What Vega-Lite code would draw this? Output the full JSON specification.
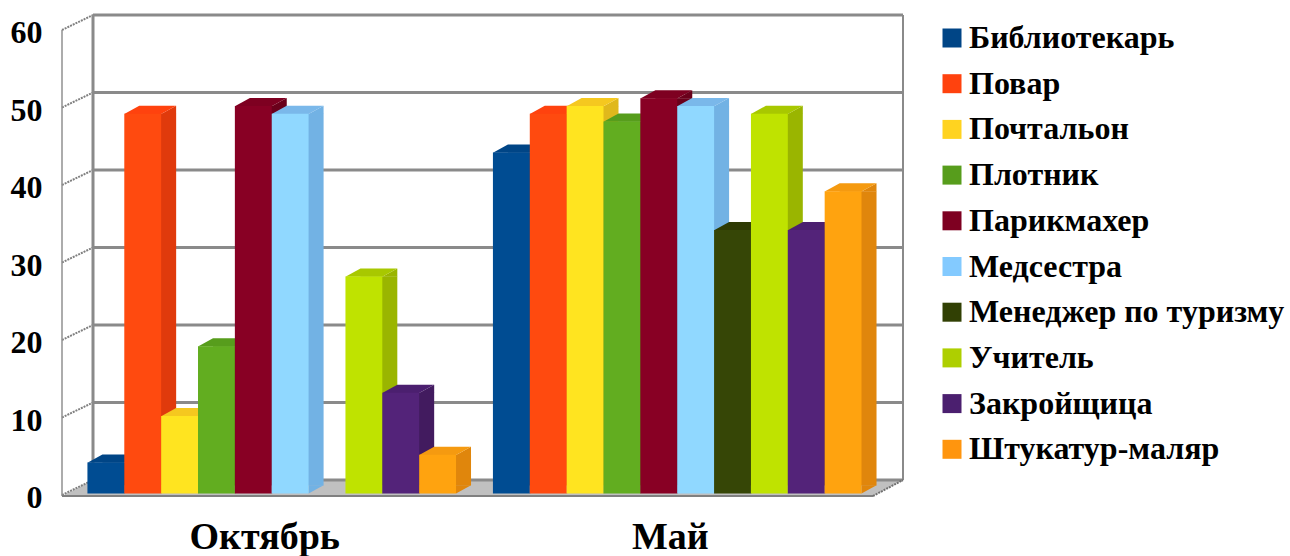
{
"$schema":"https://vega.github.io/schema/vega-lite/v6.json",
"width":811,"height":465,"autosize":"none",
"padding":{"left":62,"top":30,"right":417,"bottom":61},
"background":"white",
"config":{"view":{"stroke":null},
 "axisY":{"grid":false,"domain":false,"ticks":false,"tickCount":6,"labelFont":"Liberation Serif","labelFontWeight":"bold","labelFontSize":32,"labelColor":"#000000","labelPadding":20,"labelOffset":2.5},
 "axisX":{"labelAngle":0,"grid":false,"domain":false,"ticks":false,"labelFont":"Liberation Serif","labelFontWeight":"bold","labelFontSize":38,"labelColor":"#000000","labelPadding":23}},
"datasets":{
"rows":[
{"group":"Октябрь","job":"Библиотекарь","value":4},
{"group":"Октябрь","job":"Повар","value":49},
{"group":"Октябрь","job":"Почтальон","value":10},
{"group":"Октябрь","job":"Плотник","value":19},
{"group":"Октябрь","job":"Парикмахер","value":50},
{"group":"Октябрь","job":"Медсестра","value":49},
{"group":"Октябрь","job":"Учитель","value":28},
{"group":"Октябрь","job":"Закройщица","value":13},
{"group":"Октябрь","job":"Штукатур-маляр","value":5},
{"group":"Май","job":"Библиотекарь","value":44},
{"group":"Май","job":"Повар","value":49},
{"group":"Май","job":"Почтальон","value":50},
{"group":"Май","job":"Плотник","value":48},
{"group":"Май","job":"Парикмахер","value":51},
{"group":"Май","job":"Медсестра","value":50},
{"group":"Май","job":"Менеджер по туризму","value":34},
{"group":"Май","job":"Учитель","value":49},
{"group":"Май","job":"Закройщица","value":34},
{"group":"Май","job":"Штукатур-маляр","value":39}
],
"levels":[{"v":0},{"v":10},{"v":20},{"v":30},{"v":40},{"v":50},{"v":60}]
},
"data":{"name":"rows"},
"resolve":{"scale":{"color":"independent","xOffset":"independent"}},
"layer":[
{"data":{"values":[{"v":0}]},"mark":{"type":"point","filled":true,"opacity":1,"size":4,"fill":"#c0c0c0","shape":"M-405.5,1 L-374.5,-15 L435.5,-15 L405.5,1 Z"},
 "encoding":{"y":{"field":"v","type":"quantitative","title":null,"scale":{"domain":[0,60]}}}},
{"data":{"name":"levels"},"mark":{"type":"point","filled":false,"opacity":1,"size":4,"stroke":"#8a8a8a","strokeWidth":3,"shape":"M-374.5,-15 L435.5,-15"},
 "encoding":{"y":{"field":"v","type":"quantitative","title":null,"scale":{"domain":[0,60]}}}},
{"data":{"name":"levels"},"mark":{"type":"point","filled":false,"opacity":1,"size":4,"stroke":"#808080","strokeWidth":2,"strokeDash":[2,1],"shape":"M-405.5,0 L-374.5,-15"},
 "encoding":{"y":{"field":"v","type":"quantitative","title":null,"scale":{"domain":[0,60]}}}},
{"data":{"values":[{"v":0}]},"mark":{"type":"point","filled":false,"opacity":1,"size":4,"stroke":"#8a8a8a","strokeWidth":3,"shape":"M-374.5,-15 L-374.5,-480"},
 "encoding":{"y":{"field":"v","type":"quantitative","title":null,"scale":{"domain":[0,60]}}}},
{"data":{"values":[{"v":0}]},"mark":{"type":"point","filled":false,"opacity":1,"size":4,"stroke":"#8a8a8a","strokeWidth":2,"shape":"M435.5,-15 L435.5,-480"},
 "encoding":{"y":{"field":"v","type":"quantitative","title":null,"scale":{"domain":[0,60]}}}},
{"data":{"values":[{"v":0}]},"mark":{"type":"point","filled":false,"opacity":1,"size":4,"stroke":"#909090","strokeWidth":1.5,"shape":"M-405.5,1 L-405.5,-465"},
 "encoding":{"y":{"field":"v","type":"quantitative","title":null,"scale":{"domain":[0,60]}}}},
{"data":{"values":[{"v":0}]},"mark":{"type":"point","filled":false,"opacity":1,"size":4,"stroke":"#808080","strokeWidth":2,"shape":"M-405.5,1 L405.5,1"},
 "encoding":{"y":{"field":"v","type":"quantitative","title":null,"scale":{"domain":[0,60]}}}},
{"data":{"values":[{"v":0}]},"mark":{"type":"point","filled":false,"opacity":1,"size":4,"stroke":"#707070","strokeWidth":2,"strokeDash":[2,1],"shape":"M405.5,1 L435.5,-15"},
 "encoding":{"y":{"field":"v","type":"quantitative","title":null,"scale":{"domain":[0,60]}}}},

{"mark":{"type":"bar","yOffset":-1.5,"y2Offset":-9.5},
 "encoding":{
  "x":{"field":"group","type":"nominal","title":null,"sort":null,"scale":{"type":"band","domain":["Октябрь","Май"],"paddingInner":0,"paddingOuter":0}},
  "xOffset":{"field":"job","type":"nominal","sort":null,"scale":{"type":"band","domain":["Библиотекарь","Повар","Почтальон","Плотник","Парикмахер","Медсестра","Менеджер по туризму","Учитель","Закройщица","Штукатур-маляр"],"range":[40.43,409.03],"paddingInner":0,"paddingOuter":0}},
  "y":{"field":"value","type":"quantitative","title":null,"stack":null,"scale":{"domain":[0,60]}},
  "y2":{"datum":0},
  "color":{"field":"job","type":"nominal","legend":null,"sort":null,"scale":{"domain":["Библиотекарь","Повар","Почтальон","Плотник","Парикмахер","Медсестра","Менеджер по туризму","Учитель","Закройщица","Штукатур-маляр"],"range":["#003c75","#e03a0c","#e0b81c","#4d8c18","#6a001b","#72b2e4","#283403","#9ab500","#421b5f","#e0860c"]}}
 }},
{"mark":{"type":"point","filled":true,"opacity":1,"size":4,"strokeWidth":0,"yOffset":-1.5,"shape":"M18.43,0.3 L33.43,-8 L33.43,0.3 Z"},
 "encoding":{
  "x":{"field":"group","type":"nominal","title":null,"sort":null,"scale":{"type":"band","domain":["Октябрь","Май"],"paddingInner":0,"paddingOuter":0}},
  "xOffset":{"field":"job","type":"nominal","sort":null,"scale":{"type":"band","domain":["Библиотекарь","Повар","Почтальон","Плотник","Парикмахер","Медсестра","Менеджер по туризму","Учитель","Закройщица","Штукатур-маляр"],"range":[25.43,394.03],"paddingInner":0,"paddingOuter":0}},
  "y":{"field":"value","type":"quantitative","title":null,"scale":{"domain":[0,60]}},
  "color":{"field":"job","type":"nominal","legend":null,"sort":null,"scale":{"domain":["Библиотекарь","Повар","Почтальон","Плотник","Парикмахер","Медсестра","Менеджер по туризму","Учитель","Закройщица","Штукатур-маляр"],"range":["#003c75","#e03a0c","#e0b81c","#4d8c18","#6a001b","#72b2e4","#283403","#9ab500","#421b5f","#e0860c"]}}
 }},
{"mark":{"type":"point","filled":true,"opacity":1,"size":4,"strokeWidth":0,"yOffset":-1.5,"shape":"M18.43,-8.3 L33.43,-8.3 L18.43,0 Z"},
 "encoding":{
  "x":{"field":"group","type":"nominal","title":null,"sort":null,"scale":{"type":"band","domain":["Октябрь","Май"],"paddingInner":0,"paddingOuter":0}},
  "xOffset":{"field":"job","type":"nominal","sort":null,"scale":{"type":"band","domain":["Библиотекарь","Повар","Почтальон","Плотник","Парикмахер","Медсестра","Менеджер по туризму","Учитель","Закройщица","Штукатур-маляр"],"range":[25.43,394.03],"paddingInner":0,"paddingOuter":0}},
  "y":{"datum":0,"title":null,"scale":{"domain":[0,60]}},
  "color":{"field":"job","type":"nominal","legend":null,"sort":null,"scale":{"domain":["Библиотекарь","Повар","Почтальон","Плотник","Парикмахер","Медсестра","Менеджер по туризму","Учитель","Закройщица","Штукатур-маляр"],"range":["#003c75","#e03a0c","#e0b81c","#4d8c18","#6a001b","#72b2e4","#283403","#9ab500","#421b5f","#e0860c"]}}
 }},
{"mark":{"type":"point","filled":true,"opacity":1,"size":4,"strokeWidth":0,"yOffset":-1.5,"shape":"M-18.43,0.3 L-3.43,-8 L33.43,-8 L18.43,0.3 Z"},
 "encoding":{
  "x":{"field":"group","type":"nominal","title":null,"sort":null,"scale":{"type":"band","domain":["Октябрь","Май"],"paddingInner":0,"paddingOuter":0}},
  "xOffset":{"field":"job","type":"nominal","sort":null,"scale":{"type":"band","domain":["Библиотекарь","Повар","Почтальон","Плотник","Парикмахер","Медсестра","Менеджер по туризму","Учитель","Закройщица","Штукатур-маляр"],"range":[25.43,394.03],"paddingInner":0,"paddingOuter":0}},
  "y":{"field":"value","type":"quantitative","title":null,"scale":{"domain":[0,60]}},
  "color":{"field":"job","type":"nominal","legend":null,"sort":null,"scale":{"domain":["Библиотекарь","Повар","Почтальон","Плотник","Парикмахер","Медсестра","Менеджер по туризму","Учитель","Закройщица","Штукатур-маляр"],"range":["#004586","#ff420e","#f5c81f","#579d1c","#7e0021","#7ab8ea","#2e3a04","#a8c800","#4b1f6f","#f59a10"]}}
 }},
{"mark":{"type":"bar","yOffset":-1.5,"y2Offset":-1.5},
 "encoding":{
  "x":{"field":"group","type":"nominal","title":null,"sort":null,"scale":{"type":"band","domain":["Октябрь","Май"],"paddingInner":0,"paddingOuter":0}},
  "xOffset":{"field":"job","type":"nominal","sort":null,"scale":{"type":"band","domain":["Библиотекарь","Повар","Почтальон","Плотник","Парикмахер","Медсестра","Менеджер по туризму","Учитель","Закройщица","Штукатур-маляр"],"range":[25.43,394.03],"paddingInner":0,"paddingOuter":0}},
  "y":{"field":"value","type":"quantitative","title":null,"stack":null,"scale":{"domain":[0,60]}},
  "y2":{"datum":0},
  "color":{"field":"job","type":"nominal","legend":null,"sort":null,"scale":{"domain":["Библиотекарь","Повар","Почтальон","Плотник","Парикмахер","Медсестра","Менеджер по туризму","Учитель","Закройщица","Штукатур-маляр"],"range":["#004c92","#ff4a0f","#ffe420","#62ad20","#880024","#90d8ff","#364606","#bfe300","#532379","#ffa30f"]}}
 }},
{"mark":{"type":"bar","opacity":0},
 "encoding":{
  "x":{"field":"group","type":"nominal","title":null,"sort":null,"scale":{"type":"band","domain":["Октябрь","Май"],"paddingInner":0,"paddingOuter":0}},
  "y":{"datum":0,"title":null,"scale":{"domain":[0,60]}},
  "color":{"field":"job","type":"nominal","sort":null,"scale":{"domain":["Библиотекарь","Повар","Почтальон","Плотник","Парикмахер","Медсестра","Менеджер по туризму","Учитель","Закройщица","Штукатур-маляр"],"range":["#004586","#ff420e","#ffd320","#579d1c","#7e0021","#83caff","#314004","#aecf00","#4b1f6f","#ff950e"]},
   "legend":{"title":null,"orient":"none","legendX":874,"legendY":-8,"symbolType":"square","symbolSize":361,"symbolOpacity":1,"symbolStrokeWidth":0,"labelFont":"Liberation Serif","labelFontWeight":"bold","labelFontSize":32,"labelColor":"#000000","rowPadding":13.7,"labelOffset":1,"labelLimit":400,"values":["Библиотекарь","Повар","Почтальон","Плотник","Парикмахер","Медсестра","Менеджер по туризму","Учитель","Закройщица","Штукатур-маляр"]}}
 }}
]
}
